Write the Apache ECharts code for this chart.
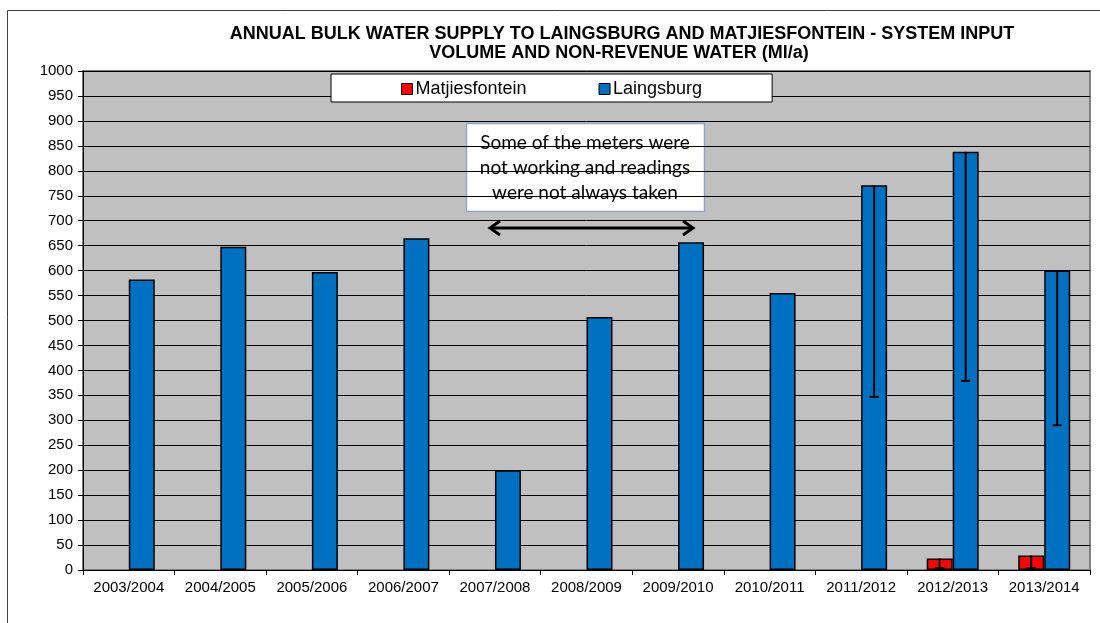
<!DOCTYPE html>
<html>
<head>
<meta charset="utf-8">
<script src="https://cdn.jsdelivr.net/npm/echarts@6/dist/echarts.min.js"></script>
<style>
html,body{margin:0;padding:0;background:#fff;}
#chart{width:1100px;height:623px;}
</style>
</head>
<body>
<div id="chart"></div>
<script>
const categories = ['2003/2004','2004/2005','2005/2006','2006/2007','2007/2008','2008/2009','2009/2010','2010/2011','2011/2012','2012/2013','2013/2014'];
const matjiesfontein = [null,null,null,null,null,null,null,null,null,23,29];
const laingsburg = [582,648,597,665,200,507,657,555,771,838,600];
const matjiesLow = [null,null,null,null,null,null,null,null,null,4,4];
const laingsburgLow = [null,null,null,null,null,null,null,null,347,379,290];
const yTicks = {min:0, max:1000, interval:50};
const titleLine1 = 'ANNUAL BULK WATER SUPPLY TO LAINGSBURG AND MATJIESFONTEIN - SYSTEM INPUT';
const titleLine2 = 'VOLUME AND NON-REVENUE WATER (Ml/a)';
const noteLines = ['Some of the meters were','not working and readings','were not always taken'];

const FONT = '"Liberation Sans", Arial, sans-serif';
const chart = echarts.init(document.getElementById('chart'));

function errData(vals, lows){
  return vals.map((v,i)=> (v!=null && lows[i]!=null) ? [i, v, lows[i]] : null).filter(d=>d);
}
function errRender(offset){
  return function(params, api){
    const x = api.coord([api.value(0), 0])[0] + offset;
    const yTop = api.coord([api.value(0), api.value(1)])[1];
    const yLow = api.coord([api.value(0), api.value(2)])[1];
    const style = {stroke:'#000', lineWidth:2};
    return {type:'group', children:[
      {type:'line', shape:{x1:x, y1:yTop, x2:x, y2:yLow}, style},
      {type:'line', shape:{x1:x-4.5, y1:yLow, x2:x+4.5, y2:yLow}, style}
    ]};
  };
}

const option = {
  animation:false,
  backgroundColor:'#fff',
  textStyle:{fontFamily:FONT},
  title:[
    {text:titleLine1, left:617, top:20, textAlign:'center', textStyle:{fontFamily:FONT, fontWeight:'bold', fontSize:18, color:'#000'}},
    {text:titleLine2, left:614, top:39, textAlign:'center', textStyle:{fontFamily:FONT, fontWeight:'bold', fontSize:18, color:'#000'}}
  ],
  legend:{
    data:['Matjiesfontein','Laingsburg'],
    left:331, top:74,
    backgroundColor:'#fff', borderColor:'#000', borderWidth:1,
    padding:[6,70,4,70],
    itemGap:72, itemWidth:11, itemHeight:11, icon:'rect',
    textStyle:{fontFamily:FONT, fontSize:18, color:'#000', padding:[0,0,0,-2]},
    itemStyle:{borderColor:'#000', borderWidth:1}
  },
  grid:{left:83, right:10, top:71, bottom:53, show:true, backgroundColor:'#C0C0C0', borderColor:'#808080', borderWidth:2},
  xAxis:{
    type:'category', data:categories,
    axisLine:{lineStyle:{color:'#000', width:1}},
    axisTick:{show:true, length:5, lineStyle:{color:'#000'}},
    axisLabel:{fontFamily:FONT, fontSize:15, color:'#000', margin:10, interval:0},
    splitLine:{show:false}
  },
  yAxis:{
    type:'value', min:yTicks.min, max:yTicks.max, interval:yTicks.interval,
    axisLine:{show:true, lineStyle:{color:'#000', width:1}},
    axisTick:{show:true, length:5, lineStyle:{color:'#000'}},
    axisLabel:{fontFamily:FONT, fontSize:15, color:'#000', margin:10, formatter:(v)=>String(v)},
    splitLine:{show:true, lineStyle:{color:'#000', width:1}}
  },
  series:[
    {name:'Matjiesfontein', type:'bar', data:matjiesfontein, barWidth:26, barGap:'0%',
     itemStyle:{color:'#FF0000', borderColor:'#000', borderWidth:1.5}},
    {name:'Laingsburg', type:'bar', data:laingsburg, barWidth:26, barGap:'0%',
     itemStyle:{color:'#0070C0', borderColor:'#000', borderWidth:1.5}},
    {type:'custom', data:errData(matjiesfontein, matjiesLow), renderItem:errRender(-13), z:5, silent:true},
    {type:'custom', data:errData(laingsburg, laingsburgLow), renderItem:errRender(13), z:5, silent:true}
  ],
  graphic:[
    {type:'rect', shape:{x:7.5, y:10.5, width:1200, height:700}, style:{fill:null, stroke:'#404040', lineWidth:1}, z:-10, silent:true},
    {type:'group', z:100, children:[
      {type:'rect', shape:{x:466.5, y:123.5, width:238, height:88}, style:{fill:'#fff', stroke:'#8EA5C8', lineWidth:1.5}},
      {type:'text', x:585, y:143, style:{text:noteLines[0], fontFamily:'Lato, "Open Sans", sans-serif', fontSize:19, fill:'#000', textAlign:'center', textVerticalAlign:'middle'}},
      {type:'text', x:585, y:168, style:{text:noteLines[1], fontFamily:'Lato, "Open Sans", sans-serif', fontSize:19, fill:'#000', textAlign:'center', textVerticalAlign:'middle'}},
      {type:'text', x:585, y:193, style:{text:noteLines[2], fontFamily:'Lato, "Open Sans", sans-serif', fontSize:19, fill:'#000', textAlign:'center', textVerticalAlign:'middle'}},
      {type:'line', shape:{x1:490, y1:228, x2:693, y2:228}, style:{stroke:'#000', lineWidth:3}},
      {type:'polyline', shape:{points:[[500,221],[490,228],[500,235]]}, style:{stroke:'#000', lineWidth:3, fill:null}},
      {type:'polyline', shape:{points:[[683,221],[693,228],[683,235]]}, style:{stroke:'#000', lineWidth:3, fill:null}}
    ]}
  ]
};
chart.setOption(option);
</script>
</body>
</html>
